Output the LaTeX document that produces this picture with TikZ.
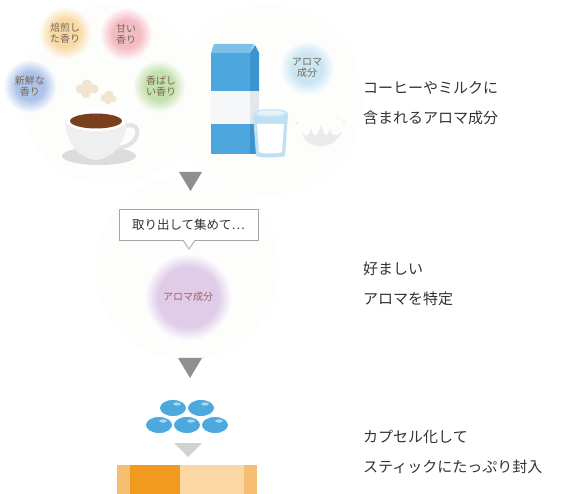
\documentclass[tikz,border=0pt]{standalone}
\usepackage{fontspec}
\setmainfont{Noto Sans CJK JP}
\usetikzlibrary{calc}
\definecolor{labeltext}{HTML}{333333}
\definecolor{bubbletext}{HTML}{7A6755}
\definecolor{roast}{HTML}{F7DAA6}
\definecolor{sweet}{HTML}{F3BCC4}
\definecolor{fresh}{HTML}{ADC3EA}
\definecolor{savory}{HTML}{C3E0AE}
\definecolor{milkaroma}{HTML}{C9E6F3}
\definecolor{purplearoma}{HTML}{DFCCE8}
\definecolor{purpletext}{HTML}{A0605E}
\definecolor{arrowgray}{HTML}{8F8F8F}
\definecolor{paleArrow}{HTML}{D2D2D2}
\definecolor{cartonblue}{HTML}{4DA6DE}
\definecolor{cartonside}{HTML}{3D93CF}
\definecolor{cartontop}{HTML}{7EC0EA}
\definecolor{cartonwhite}{HTML}{F5F7F9}
\definecolor{cartonwhiteside}{HTML}{E2E7EC}
\definecolor{glassblue}{HTML}{BFE0F3}
\definecolor{coffee}{HTML}{7A3F1C}
\definecolor{cupgray}{HTML}{EEEFF1}
\definecolor{saucer}{HTML}{DCDCDC}
\definecolor{steam}{HTML}{F1E5D1}
\definecolor{capsule}{HTML}{4BA9DD}
\definecolor{stickA}{HTML}{F5BE72}
\definecolor{stickB}{HTML}{F29A1F}
\definecolor{stickC}{HTML}{FAD7A4}
\definecolor{backdrop}{HTML}{FDFDFC}
\colorlet{bubblecore}{roast}
% soft disc: solid core, fading to white at the rim
\pgfdeclareradialshading[bubblecore]{bubbleglow}{\pgfpoint{0bp}{0bp}}{%
  color(0bp)=(bubblecore); color(13bp)=(bubblecore); color(25bp)=(white); color(50bp)=(white)}
\pgfdeclareradialshading[bubblecore]{wideglow}{\pgfpoint{0bp}{0bp}}{%
  color(0bp)=(bubblecore); color(17bp)=(bubblecore); color(25bp)=(white); color(50bp)=(white)}
\tikzset{
  bubblelabel/.style={text=bubbletext, font=\fontsize{10}{11.5}\selectfont, align=center, inner sep=0pt},
  steplabel/.style={text=labeltext, font=\fontsize{15}{30}\selectfont, align=left, anchor=west, inner sep=0pt},
  downarrow/.style={fill=arrowgray},
  capsulebody/.style={fill=capsule, draw=white, line width=0.8pt},
  halo/.style={fill=backdrop}
}
\newcommand{\glow}[5][bubbleglow]{% centre, radius, colour, name
  \colorlet{bubblecore}{#4}%
  \shade[shading=#1] #2 circle (#3);
  \coordinate (#5) at #2;
}
\begin{document}
\begin{tikzpicture}[x=1pt,y=-1pt]
\useasboundingbox (0,0) rectangle (576,494);
\fill[white] (0,0) rectangle (576,494);

% faint backdrop discs
\fill[halo] (187,268) circle (92);
\fill[halo] (110,95) circle (90);
\fill[halo] (268,100) circle (95);

% aroma bubbles
\glow{(65,33)}{27}{roast}{b1}
\glow{(126,34)}{27}{sweet}{b2}
\glow{(30,86)}{27}{fresh}{b3}
\glow{(159,86)}{27}{savory}{b4}
\glow{(307,68)}{28}{milkaroma}{b5}
\node[bubblelabel] (t1) at (b1) {焙煎し\\た香り};
\node[bubblelabel] (t2) at (b2) {甘い\\香り};
\node[bubblelabel] (t3) at (b3) {新鮮な\\香り};
\node[bubblelabel] (t4) at (161,86) {香ばし\\い香り};
\node[bubblelabel] (t5) at (b5) {アロマ\\成分};

% steam
\fill[steam] (80,89) circle (4.5) (87,85) circle (5.5) (94,89) circle (4.5) (86,93) circle (5);
\fill[steam] (104,98) circle (3.5) (109,95) circle (4.5) (113,99) circle (3.5) (108,101) circle (3.5);

% coffee cup
\fill[saucer] (99,156) ellipse (37 and 9);
\draw[cupgray!90!black!70!white, line width=4pt] (126,126) .. controls (142,120) and (143,145) .. (118,148);
\fill[cupgray] (65,120) .. controls (66,140) and (76,158) .. (96,160)
  .. controls (116,158) and (126,140) .. (127,120) -- cycle;
\fill[white] (96,120) ellipse (31 and 11);
\fill[coffee] (96,121) ellipse (26 and 7.5);

% milk carton
\fill[cartonside] (250,53) -- (255,45) -- (259,53) -- (259,91) -- (250,91) -- cycle;
\fill[cartonwhiteside] (250,91) rectangle (259,124);
\fill[cartonside] (250,124) rectangle (259,154);
\fill[cartontop] (214,44) -- (254,44) -- (250,53) -- (211,53) -- cycle;
\fill[cartonblue] (211,53) rectangle (250,91);
\fill[cartonwhite] (211,91) rectangle (250,124);
\fill[cartonblue] (211,124) rectangle (250,154);

% glass of milk
\fill[glassblue] (253,114) -- (288,114) -- (285,156) .. controls (280,158) and (261,158) .. (256,156) -- cycle;
\fill[white] (257,124) -- (284,124) -- (282,152) .. controls (278,154) and (263,154) .. (259,152) -- cycle;
\fill[glassblue!80!white] (270.5,113) ellipse (17.5 and 4);
\fill[glassblue!40!white] (270.5,113) ellipse (14 and 2.5);

% milk splash
\fill[black!8] (302,133) .. controls (305,143) and (312,146) .. (320,146)
  .. controls (330,146) and (338,142) .. (342,131)
  .. controls (336,137) and (332,138) .. (330,128)
  .. controls (328,137) and (324,139) .. (321,124)
  .. controls (318,139) and (313,138) .. (311,128)
  .. controls (309,137) and (305,137) .. (302,133) -- cycle;
\fill[black!8] (297,123) circle (1.3) (344,122) circle (1.3) (338,118) circle (1);

% first arrow
\fill[downarrow] (179,172) -- (202,172) -- (190.5,191) -- cycle;

% speech callout
\node[draw=black!35, line width=0.8pt, fill=white, minimum width=139pt, minimum height=31pt,
  inner sep=0pt, font=\fontsize{12.5}{14}\selectfont, text=labeltext] (call) at (188.5,225) {取り出して集めて…};
\fill[white] (183,239.6) -- (189,249) -- (195,239.6) -- cycle;
\draw[black!35, line width=0.8pt] (183,240.4) -- (189,249) -- (195,240.4);

% purple aroma glow
\glow[wideglow]{(188,297)}{44}{purplearoma}{pa}
\node[text=purpletext, font=\fontsize{10}{11}\selectfont, inner sep=0pt] (pt) at (pa) {アロマ成分};

% second arrow
\fill[downarrow] (178,358) -- (202,358) -- (190,378) -- cycle;

% capsules
\foreach \cx/\cy in {173/408, 201/408, 159/425, 187/425, 215/425}{
  \fill[capsulebody] (\cx,\cy) ellipse (13.5 and 8.5);
  \fill[white, opacity=0.55] (\cx+4,\cy-4) ellipse (4 and 1.6);
}

% pale arrow into the stick
\fill[paleArrow] (174,443) -- (202,443) -- (188,457) -- cycle;

% stick
\fill[stickA] (117,465) rectangle (130,494);
\fill[stickB] (130,465) rectangle (180,494);
\fill[stickC] (180,465) rectangle (244,494);
\fill[stickA] (244,465) rectangle (257,494);

% step captions
\node[steplabel] (s1) at (363,103) {コーヒーやミルクに\\含まれるアロマ成分};
\node[steplabel] (s2) at (363,284) {好ましい\\アロマを特定};
\node[steplabel] (s3) at (363,452) {カプセル化して\\スティックにたっぷり封入};
\end{tikzpicture}
\end{document}
